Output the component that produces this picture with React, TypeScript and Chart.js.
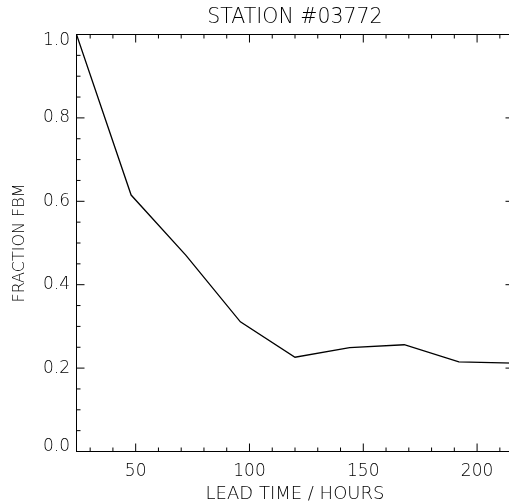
import { useEffect, useRef } from 'react';
import { Chart, registerables } from 'chart.js';

Chart.register(...registerables);

// ---- data ----
const leadHours = [24, 48, 72, 96, 120, 144, 168, 192, 216];
const fractionFbm = [1.0, 0.615, 0.471, 0.311, 0.226, 0.249, 0.256, 0.215, 0.212];
const xTickValues = [50, 100, 150, 200];
const yTickValues = [0, 0.2, 0.4, 0.6, 0.8, 1.0];
const titleText = 'STATION #03772';
const xTitleText = 'LEAD TIME / HOURS';
const yTitleText = 'FRACTION FBM';

const X_MIN = 24;
const X_MAX = 216;
const Y_MIN = 0;
const Y_MAX = 1;
const X_MINOR = 10;
const X_MAJOR = 50;
const Y_MINOR = 0.05;
const Y_MAJOR_EVERY = 4;

const FAMILY = '"DejaVu Sans", sans-serif';
const WEIGHT = 200;
const INK = '#000';

const inwardTicks = {
  id: 'inwardTicks',
  afterDraw(chart: any) {
    const { ctx, chartArea } = chart;
    const { left, right, top, bottom } = chartArea;
    const xs = chart.scales.x;
    const ys = chart.scales.y;
    ctx.save();
    ctx.strokeStyle = INK;
    ctx.lineWidth = 1;
    ctx.beginPath();
    const start = Math.ceil(X_MIN / X_MINOR) * X_MINOR;
    for (let v = start; v < X_MAX; v += X_MINOR) {
      if (v <= X_MIN) continue;
      const px = xs.getPixelForValue(v);
      const len = v % X_MAJOR === 0 ? 8 : 4;
      ctx.moveTo(px, bottom);
      ctx.lineTo(px, bottom - len);
      ctx.moveTo(px, top);
      ctx.lineTo(px, top + len);
    }
    const n = Math.round((Y_MAX - Y_MIN) / Y_MINOR);
    for (let k = 1; k < n; k++) {
      const v = Y_MIN + k * Y_MINOR;
      const py = ys.getPixelForValue(v);
      const len = k % Y_MAJOR_EVERY === 0 ? 8 : 4;
      ctx.moveTo(left, py);
      ctx.lineTo(left + len, py);
      ctx.moveTo(right, py);
      ctx.lineTo(right - len, py);
    }
    ctx.stroke();
    ctx.restore();
  },
};

export default function App() {
  const ref = useRef<HTMLCanvasElement | null>(null);

  useEffect(() => {
    const canvas = ref.current;
    if (!canvas) return;
    const chart = new Chart(canvas, {
      type: 'line',
      data: {
        datasets: [
          {
            data: leadHours.map((h, i) => ({ x: h, y: fractionFbm[i] })),
            borderColor: INK,
            borderWidth: 1.3,
            pointRadius: 0,
            tension: 0,
            fill: false,
          },
        ],
      },
      options: {
        animation: false,
        responsive: false,
        devicePixelRatio: 1,
        layout: { padding: { left: 0, right: 16.5, top: 0, bottom: 0 } },
        plugins: {
          legend: { display: false },
          tooltip: { enabled: false },
          title: { display: false },
        },
        scales: {
          x: {
            type: 'linear',
            position: 'bottom',
            min: X_MIN,
            max: X_MAX,
            afterBuildTicks: (s: any) => {
              s.ticks = xTickValues.map((v) => ({ value: v }));
            },
            afterFit: (s: any) => {
              s.height = 51.5;
            },
            grid: { display: false, drawTicks: false, drawOnChartArea: false },
            border: { display: true, color: INK, width: 1 },
            ticks: {
              color: INK,
              padding: 12,
              maxRotation: 0,
              autoSkip: false,
              font: { family: FAMILY, size: 17, weight: WEIGHT, lineHeight: 1 },
              callback: (v: any) => String(v),
            },
            title: {
              display: true,
              text: xTitleText,
              color: INK,
              font: { family: FAMILY, size: 18, weight: WEIGHT, lineHeight: 1 },
              padding: { top: 0, bottom: 0 },
            },
          },
          x2: {
            type: 'linear',
            position: 'top',
            min: X_MIN,
            max: X_MAX,
            afterFit: (s: any) => {
              s.height = 34.5;
            },
            grid: { display: false, drawTicks: false, drawOnChartArea: false },
            border: { display: true, color: INK, width: 1 },
            ticks: { display: false },
            title: {
              display: true,
              text: titleText,
              color: INK,
              font: { family: FAMILY, size: 20.5, weight: WEIGHT, lineHeight: 1 },
              padding: { top: 7, bottom: 0 },
            },
          },
          y: {
            type: 'linear',
            position: 'left',
            min: Y_MIN,
            max: Y_MAX,
            afterBuildTicks: (s: any) => {
              s.ticks = yTickValues.map((v) => ({ value: v }));
            },
            afterFit: (s: any) => {
              s.width = 76.5;
            },
            grid: { display: false, drawTicks: false, drawOnChartArea: false },
            border: { display: true, color: INK, width: 1 },
            ticks: {
              color: INK,
              padding: 6.5,
              autoSkip: false,
              font: (c: any) => {
                const v = c.tick ? c.tick.value : 0.5;
                let lh: any = 1;
                if (v === Y_MIN) lh = '10px';
                if (v === Y_MAX) lh = '12px';
                return { family: FAMILY, size: 17, weight: WEIGHT, lineHeight: lh };
              },
              callback: (v: any) => {
                const t = Number(v).toFixed(1);
                if (v === Y_MIN) return [t, ''];
                if (v === Y_MAX) return ['', t];
                return t;
              },
            },
            title: {
              display: true,
              text: yTitleText,
              color: INK,
              font: { family: FAMILY, size: 16, weight: WEIGHT, lineHeight: 1 },
              padding: { top: 12, bottom: 0 },
            },
          },
        },
      } as any,
      plugins: [inwardTicks],
    });
    return () => chart.destroy();
  }, []);

  return (
    <div
      style={{
        position: 'fixed',
        left: 0,
        top: 0,
        width: 509,
        height: 503,
        overflow: 'hidden',
        background: '#fff',
      }}
    >
      <canvas ref={ref} width={530} height={503} style={{ display: 'block', width: 530, height: 503 }} />
    </div>
  );
}
